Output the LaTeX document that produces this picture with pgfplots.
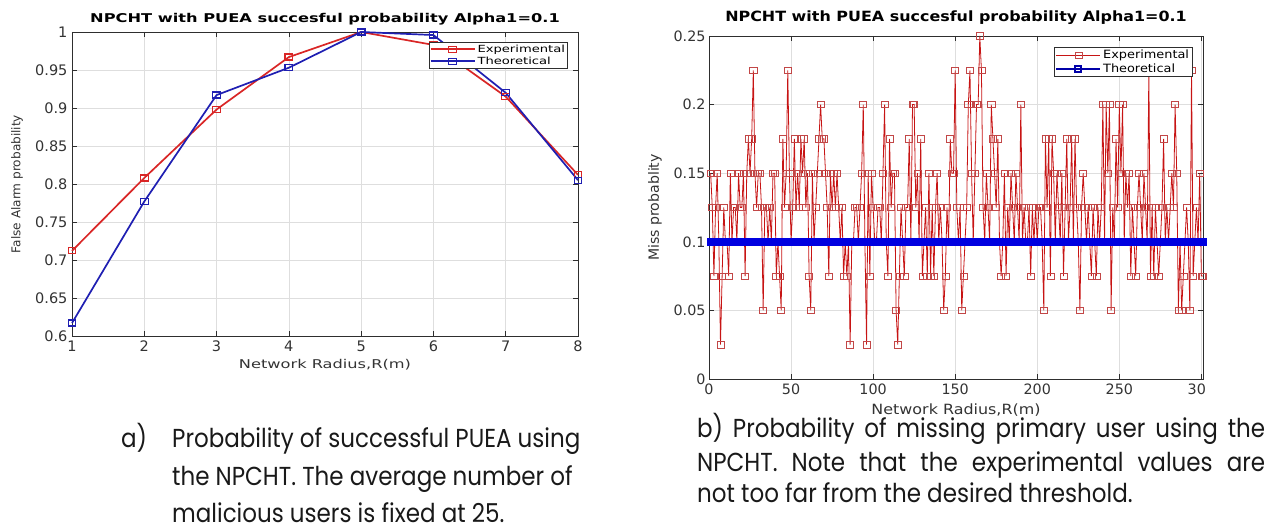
\documentclass[border=0pt]{standalone}
\usepackage{graphicx}
\usepackage{fontspec}
\setmainfont{DejaVu Sans}
\newfontfamily\capfont{Poppins}
\usepackage{pgfplots}
\pgfplotsset{compat=1.18}
\definecolor{lred}{rgb}{0.85,0.15,0.15}
\definecolor{lblue}{rgb}{0.12,0.12,0.70}
\definecolor{rred}{rgb}{0.78,0.08,0.08}
\definecolor{rredm}{rgb}{0.76,0.28,0.28}
\definecolor{rblue}{rgb}{0.00,0.00,0.88}
\definecolor{axgray}{rgb}{0.18,0.18,0.18}
\pgfplotsset{mstyle/.style={scale only axis, clip=false,
  tick align=inside, major tick length=5pt,
  grid=major, grid style={black!13, line width=0.5pt},
  axis line style={axgray, line width=0.6pt},
  tick style={axgray, line width=0.6pt},
  /pgf/number format/assume math mode=true,
  ticklabel style={text=black!80},
  label style={text=black!80},
}}
\begin{document}
\begin{tikzpicture}[x=1pt,y=1pt]
\useasboundingbox (0,0) rectangle (1275,530);
% ---------------- left panel
\begin{axis}[mstyle,
  at={(72pt,194pt)}, anchor=south west, width=506pt, height=304pt,
  xmin=1, xmax=8, ymin=0.6, ymax=1,
  xtick={1,2,3,4,5,6,7,8},
  ytick={0.6,0.65,0.7,0.75,0.8,0.85,0.9,0.95,1},
  yticklabels={0.6,0.65,0.7,0.75,0.8,0.85,0.9,0.95,1},
  ticklabel style={font=\fontsize{14.5}{15}\selectfont},
  xticklabel shift=1.5pt, yticklabel shift=1pt,
  title={NPCHT with PUEA succesful probability Alpha1=0.1},
  title style={font=\bfseries\fontsize{12.1}{13}\selectfont, xscale=1.34, at={(axis description cs:0.5,1.022)}, anchor=center},
  xlabel={Network Radius,R(m)},
  xlabel style={font=\fontsize{12.1}{13}\selectfont, xscale=1.34, at={(axis description cs:0.5,-0.0954)}, anchor=center},
  ylabel={False Alarm probability},
  ylabel style={font=\fontsize{12.1}{13}\selectfont, at={(axis description cs:-0.1087,0.5)}, anchor=center},
  legend style={at={(rel axis cs:0.980,0.967)}, anchor=north east, draw=axgray, line width=0.6pt,
    font=\fontsize{9.8}{10.5}\selectfont, inner sep=0.5pt, row sep=-1pt, cells={anchor=west}},
  legend image code/.code={\draw[mark repeat=2,mark phase=2,#1] plot coordinates {(0pt,0pt)(22pt,0pt)(44pt,0pt)};},
]
\addplot[color=lred, line width=1.7pt, mark=square, mark size=3pt, mark options={solid, line width=1.2pt, xscale=1.28}]
  coordinates {(1,0.712)(2,0.808)(3,0.898)(4,0.967)(5,1.0)(6,0.983)(7,0.915)(8,0.812)};
\addlegendentry{\scalebox{1.34}[1]{Experimental}}
\addplot[color=lblue, line width=1.7pt, mark=square, mark size=3pt, mark options={solid, line width=1.2pt, xscale=1.28}]
  coordinates {(1,0.617)(2,0.777)(3,0.917)(4,0.953)(5,1.0)(6,0.996)(7,0.920)(8,0.805)};
\addlegendentry{\scalebox{1.34}[1]{Theoretical}}
\end{axis}
% ---------------- right panel
\begin{axis}[mstyle,
  at={(709pt,151pt)}, anchor=south west, width=494pt, height=343pt,
  xmin=0, xmax=301, ymin=0, ymax=0.25,
  xtick={0,50,100,150,200,250,300},
  xticklabels={0,50,100,150,200,250,30\phantom{0}},
  ytick={0,0.05,0.1,0.15,0.2,0.25},
  yticklabels={0,0.05,0.1,0.15,0.2,0.25},
  ticklabel style={font=\fontsize{14.3}{15}\selectfont},
  xticklabel shift=1.5pt, yticklabel shift=0pt,
  title={NPCHT with PUEA succesful probability Alpha1=0.1},
  title style={font=\bfseries\fontsize{14.1}{15}\selectfont, xscale=1.13, at={(axis description cs:0.5,1.035)}, anchor=center},
  xlabel={Network Radius,R(m)},
  xlabel style={font=\fontsize{14.1}{15}\selectfont, xscale=1.13, at={(axis description cs:0.5,-0.0904)}, anchor=center},
  ylabel={Miss probablity},
  ylabel style={font=\fontsize{14.1}{15}\selectfont, at={(axis description cs:-0.1093,0.5)}, anchor=center},
  legend style={at={(rel axis cs:0.978,0.968)}, anchor=north east, draw=axgray, line width=0.6pt,
    font=\fontsize{11.4}{12}\selectfont, inner sep=0.8pt, row sep=-0.5pt, cells={anchor=west}},
  legend image code/.code={\draw[mark repeat=2,mark phase=2,#1] plot coordinates {(0pt,0pt)(22pt,0pt)(44pt,0pt)};},
]
\addplot[color=rred, line width=0.8pt, mark=square, mark size=3.2pt, mark options={solid, draw=rredm, line width=0.6pt, xscale=1.1}]
  table[row sep=\\] {x y\\
1 0.15\\ 2 0.125\\ 3 0.075\\ 4 0.125\\ 5 0.15\\ 6 0.1\\ 7 0.025\\ 8 0.075\\ 9 0.125\\ 10 0.1\\
11 0.1\\ 12 0.075\\ 13 0.15\\ 14 0.1\\ 15 0.125\\ 16 0.125\\ 17 0.1\\ 18 0.15\\ 19 0.125\\ 20 0.125\\
21 0.15\\ 22 0.075\\ 23 0.15\\ 24 0.175\\ 25 0.15\\ 26 0.175\\ 27 0.225\\ 28 0.15\\ 29 0.125\\ 30 0.15\\
31 0.15\\ 32 0.125\\ 33 0.05\\ 34 0.125\\ 35 0.125\\ 36 0.1\\ 37 0.125\\ 38 0.1\\ 39 0.15\\ 40 0.15\\
41 0.075\\ 42 0.1\\ 43 0.075\\ 44 0.05\\ 45 0.175\\ 46 0.125\\ 47 0.15\\ 48 0.225\\ 49 0.15\\ 50 0.1\\
51 0.125\\ 52 0.175\\ 53 0.125\\ 54 0.15\\ 55 0.125\\ 56 0.175\\ 57 0.15\\ 58 0.175\\ 59 0.125\\ 60 0.15\\
61 0.075\\ 62 0.05\\ 63 0.15\\ 64 0.1\\ 65 0.125\\ 66 0.15\\ 67 0.175\\ 68 0.2\\ 69 0.175\\ 70 0.175\\
71 0.15\\ 72 0.125\\ 73 0.075\\ 74 0.15\\ 75 0.125\\ 76 0.15\\ 77 0.125\\ 78 0.15\\ 79 0.125\\ 80 0.1\\
81 0.125\\ 82 0.075\\ 83 0.1\\ 84 0.075\\ 85 0.1\\ 86 0.025\\ 87 0.1\\ 88 0.1\\ 89 0.125\\ 90 0.125\\
91 0.1\\ 92 0.125\\ 93 0.15\\ 94 0.2\\ 95 0.1\\ 96 0.025\\ 97 0.15\\ 98 0.075\\ 99 0.15\\ 100 0.125\\
101 0.1\\ 102 0.1\\ 103 0.125\\ 104 0.125\\ 105 0.1\\ 106 0.15\\ 107 0.2\\ 108 0.1\\ 109 0.075\\ 110 0.175\\
111 0.125\\ 112 0.15\\ 113 0.15\\ 114 0.05\\ 115 0.025\\ 116 0.075\\ 117 0.125\\ 118 0.1\\ 119 0.075\\ 120 0.125\\
121 0.125\\ 122 0.175\\ 123 0.1\\ 124 0.2\\ 125 0.2\\ 126 0.125\\ 127 0.15\\ 128 0.1\\ 129 0.175\\ 130 0.075\\
131 0.1\\ 132 0.125\\ 133 0.075\\ 134 0.15\\ 135 0.075\\ 136 0.125\\ 137 0.075\\ 138 0.125\\ 139 0.15\\ 140 0.1\\
141 0.125\\ 142 0.1\\ 143 0.05\\ 144 0.075\\ 145 0.125\\ 146 0.1\\ 147 0.175\\ 148 0.15\\ 149 0.15\\ 150 0.225\\
151 0.125\\ 152 0.1\\ 153 0.125\\ 154 0.05\\ 155 0.075\\ 156 0.1\\ 157 0.125\\ 158 0.2\\ 159 0.225\\ 160 0.15\\
161 0.1\\ 162 0.15\\ 163 0.2\\ 164 0.2\\ 165 0.25\\ 166 0.225\\ 167 0.125\\ 168 0.1\\ 169 0.15\\ 170 0.125\\
171 0.1\\ 172 0.2\\ 173 0.175\\ 174 0.15\\ 175 0.125\\ 176 0.175\\ 177 0.1\\ 178 0.075\\ 179 0.1\\ 180 0.15\\
181 0.075\\ 182 0.125\\ 183 0.1\\ 184 0.15\\ 185 0.125\\ 186 0.1\\ 187 0.15\\ 188 0.125\\ 189 0.1\\ 190 0.2\\
191 0.1\\ 192 0.125\\ 193 0.1\\ 194 0.1\\ 195 0.125\\ 196 0.075\\ 197 0.125\\ 198 0.1\\ 199 0.125\\ 200 0.1\\
201 0.125\\ 202 0.125\\ 203 0.1\\ 204 0.05\\ 205 0.175\\ 206 0.125\\ 207 0.175\\ 208 0.075\\ 209 0.175\\ 210 0.15\\
211 0.1\\ 212 0.15\\ 213 0.125\\ 214 0.1\\ 215 0.15\\ 216 0.075\\ 217 0.125\\ 218 0.175\\ 219 0.1\\ 220 0.125\\
221 0.175\\ 222 0.1\\ 223 0.175\\ 224 0.125\\ 225 0.1\\ 226 0.05\\ 227 0.125\\ 228 0.15\\ 229 0.125\\ 230 0.1\\
231 0.125\\ 232 0.1\\ 233 0.075\\ 234 0.125\\ 235 0.1\\ 236 0.075\\ 237 0.125\\ 238 0.1\\ 239 0.125\\ 240 0.2\\
241 0.1\\ 242 0.2\\ 243 0.15\\ 244 0.2\\ 245 0.05\\ 246 0.125\\ 247 0.1\\ 248 0.175\\ 249 0.125\\ 250 0.2\\
251 0.15\\ 252 0.2\\ 253 0.1\\ 254 0.15\\ 255 0.125\\ 256 0.15\\ 257 0.075\\ 258 0.125\\ 259 0.1\\ 260 0.075\\
261 0.125\\ 262 0.15\\ 263 0.125\\ 264 0.1\\ 265 0.15\\ 266 0.125\\ 267 0.1\\ 268 0.225\\ 269 0.075\\ 270 0.125\\
271 0.075\\ 272 0.125\\ 273 0.1\\ 274 0.075\\ 275 0.1\\ 276 0.125\\ 277 0.175\\ 278 0.1\\ 279 0.125\\ 280 0.1\\
281 0.125\\ 282 0.15\\ 283 0.125\\ 284 0.2\\ 285 0.15\\ 286 0.05\\ 287 0.1\\ 288 0.05\\ 289 0.075\\ 290 0.1\\
291 0.125\\ 292 0.1\\ 293 0.05\\ 294 0.225\\ 295 0.075\\ 296 0.1\\ 297 0.125\\ 298 0.1\\ 299 0.15\\ 300 0.075\\
301 0.075\\
};
\addlegendentry{\scalebox{1.13}[1]{Experimental}}
\addlegendimage{color=rblue!75!black, line width=1.6pt, mark=square, mark size=3pt, mark options={solid, line width=1.8pt}}
\addlegendentry{\scalebox{1.13}[1]{Theoretical}}
\end{axis}
% overlay: theoretical band drawn on top of the experimental series
\begin{axis}[scale only axis, clip=false, hide axis,
  at={(709pt,151pt)}, anchor=south west, width=494pt, height=343pt,
  xmin=0, xmax=301, ymin=0, ymax=0.25]
\addplot[color=rblue, line width=8pt, line cap=rect] coordinates {(1,0.1)(301,0.1)};
\end{axis}
% ---------------- captions
\begin{scope}[every node/.style={anchor=base west, inner sep=0pt, xscale=0.885, font=\capfont\fontsize{26}{28}\selectfont, text=black!90}]
\node at (121pt,82pt) {a)};
\node at (172pt,82pt) {Probability of successful PUEA using};
\node at (172pt,44pt) {the NPCHT. The average number of};
\node at (172pt,7pt) {malicious users is fixed at 25.};
\node at (697pt,92pt) {\makebox[641.8pt][s]{b) Probability of missing primary user using the}};
\node at (697pt,58pt) {\makebox[641.8pt][s]{NPCHT. Note that the experimental values are}};
\node at (697pt,27pt) {not too far from the desired threshold.};
\end{scope}
\end{tikzpicture}
\end{document}
